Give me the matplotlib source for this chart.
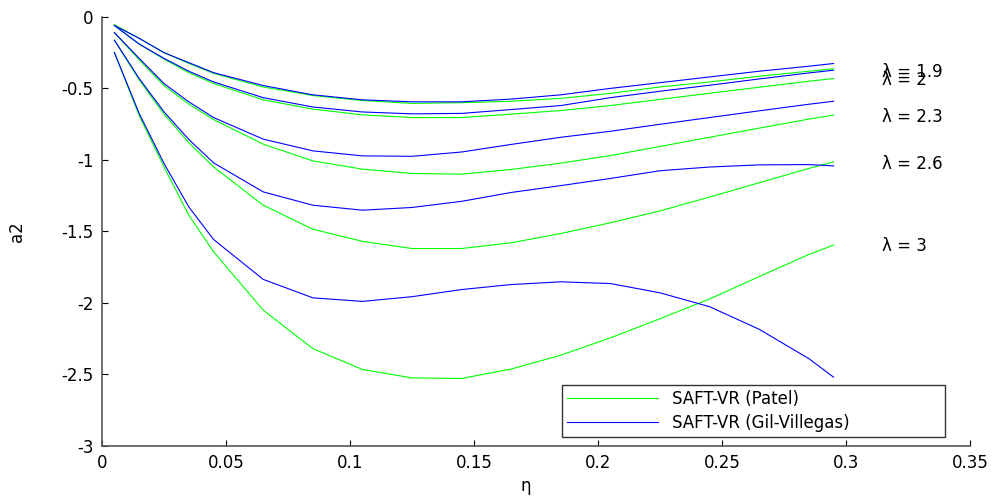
import numpy as np
import matplotlib
matplotlib.use("Agg")
import matplotlib.pyplot as plt

# packing fraction grid
eta = [0.005, 0.015, 0.025, 0.035, 0.045, 0.065, 0.085, 0.105, 0.125,
       0.145, 0.165, 0.185, 0.205, 0.225, 0.245, 0.265, 0.285, 0.295]

# a2 from SAFT-VR (Patel)
patel_19 = [-0.055, -0.15, -0.25, -0.325, -0.395, -0.49, -0.55, -0.585, -0.605,
            -0.60, -0.59, -0.57, -0.535, -0.49, -0.455, -0.415, -0.38, -0.363]
patel_20 = [-0.06, -0.19, -0.295, -0.39, -0.466, -0.58, -0.645, -0.685, -0.704,
            -0.704, -0.68, -0.655, -0.62, -0.577, -0.534, -0.492, -0.45, -0.431]
patel_23 = [-0.11, -0.30, -0.48, -0.61, -0.718, -0.89, -1.007, -1.065, -1.095,
            -1.10, -1.067, -1.023, -0.97, -0.906, -0.842, -0.778, -0.715, -0.687]
patel_26 = [-0.163, -0.44, -0.68, -0.88, -1.049, -1.317, -1.485, -1.57, -1.62,
            -1.62, -1.58, -1.515, -1.44, -1.357, -1.26, -1.16, -1.06, -1.014]
patel_30 = [-0.25, -0.69, -1.049, -1.387, -1.643, -2.051, -2.32, -2.466, -2.525,
            -2.529, -2.463, -2.366, -2.245, -2.111, -1.973, -1.816, -1.662, -1.596]

# a2 from SAFT-VR (Gil-Villegas)
gil_19 = [-0.06, -0.15, -0.25, -0.32, -0.39, -0.48, -0.545, -0.58, -0.594,
          -0.594, -0.575, -0.545, -0.50, -0.46, -0.42, -0.38, -0.345, -0.326]
gil_20 = [-0.06, -0.19, -0.29, -0.38, -0.455, -0.565, -0.63, -0.665, -0.678,
          -0.675, -0.648, -0.62, -0.565, -0.52, -0.478, -0.434, -0.392, -0.373]
gil_23 = [-0.11, -0.29, -0.466, -0.594, -0.704, -0.855, -0.937, -0.972, -0.975,
          -0.945, -0.892, -0.842, -0.80, -0.751, -0.704, -0.657, -0.611, -0.59]
gil_26 = [-0.163, -0.431, -0.664, -0.857, -1.021, -1.224, -1.317, -1.352, -1.333,
          -1.29, -1.228, -1.18, -1.13, -1.076, -1.05, -1.035, -1.033, -1.042]
gil_30 = [-0.249, -0.676, -1.025, -1.329, -1.557, -1.836, -1.965, -1.99, -1.957,
          -1.907, -1.872, -1.853, -1.865, -1.93, -2.027, -2.185, -2.39, -2.52]

lambda_labels = ["\u03bb = 1.9", "\u03bb = 2", "\u03bb = 2.3", "\u03bb = 2.6", "\u03bb = 3"]
label_y = [-0.387, -0.443, -0.70, -1.03, -1.60]

xticks = [0, 0.05, 0.1, 0.15, 0.2, 0.25, 0.3, 0.35]
xtick_labels = ["0", "0.05", "0.1", "0.15", "0.2", "0.25", "0.3", "0.35"]
yticks = [0, -0.5, -1, -1.5, -2, -2.5, -3]
ytick_labels = ["0", "-0.5", "-1", "-1.5", "-2", "-2.5", "-3"]

plt.rcParams['font.family'] = ['DejaVu Sans']
fs = 12

fig = plt.figure(figsize=(10, 4.97), dpi=100)
ax = fig.add_axes([0.102, 0.103, 0.868, 0.863])

patel = [patel_19, patel_20, patel_23, patel_26, patel_30]
gil = [gil_19, gil_20, gil_23, gil_26, gil_30]
for i in range(5):
    ax.plot(eta, patel[i], color=(0, 1, 0), lw=0.8,
            label="SAFT-VR (Patel)" if i == 0 else None)
    ax.plot(eta, gil[i], color=(0, 0, 1), lw=0.8,
            label="SAFT-VR (Gil-Villegas)" if i == 0 else None)

for lab, yy in zip(lambda_labels, label_y):
    ax.text(0.3145, yy, lab, fontsize=fs, va="center", ha="left")

ax.set_xlim(0, 0.35)
ax.set_ylim(-3, 0)
ax.set_xticks(xticks)
ax.set_xticklabels(xtick_labels, fontsize=fs)
ax.set_yticks(yticks)
ax.set_yticklabels(ytick_labels, fontsize=fs)
ax.tick_params(direction="in", length=4, width=0.8, pad=6)

ax.spines["top"].set_visible(False)
ax.spines["right"].set_visible(False)
ax.spines["left"].set_color("#555555")
ax.spines["bottom"].set_color("#555555")
ax.spines["left"].set_linewidth(1.2)
ax.spines["bottom"].set_linewidth(1.2)

ax.set_xlabel("\u03b7", fontsize=fs, va="center")
ax.xaxis.set_label_coords(0.488, -0.094)
ax.set_ylabel("a2", fontsize=fs, va="center")
ax.yaxis.set_label_coords(-0.098, 0.5)

leg = ax.legend(loc="lower left", bbox_to_anchor=(0.5296, 0.021, 0.4414, 0.1245),
                mode="expand", fontsize=fs, frameon=True, fancybox=False,
                handlelength=5.5, borderaxespad=0, labelspacing=0.35,
                borderpad=0.3)
leg.get_frame().set_edgecolor("black")
leg.get_frame().set_linewidth(1.0)

fig.savefig("out.png", dpi=100)
